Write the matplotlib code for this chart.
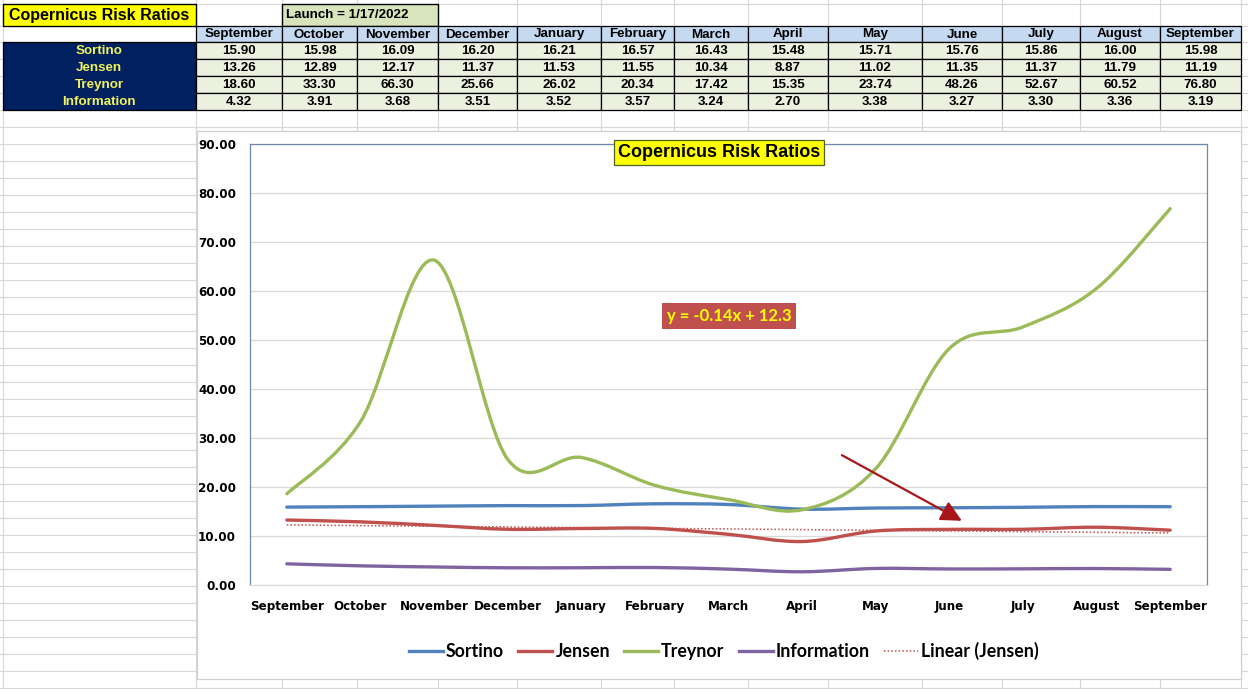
import numpy as np
import matplotlib
matplotlib.use('Agg')
import matplotlib.pyplot as plt
from matplotlib.patches import Rectangle, PathPatch
from matplotlib.path import Path
from matplotlib.lines import Line2D

meses = ['September', 'October', 'November', 'December', 'January', 'February', 'March',
         'April', 'May', 'June', 'July', 'August', 'September']
sortino = [15.90, 15.98, 16.09, 16.20, 16.21, 16.57, 16.43, 15.48, 15.71, 15.76, 15.86, 16.00, 15.98]
jensen = [13.26, 12.89, 12.17, 11.37, 11.53, 11.55, 10.34, 8.87, 11.02, 11.35, 11.37, 11.79, 11.19]
treynor = [18.60, 33.30, 66.30, 25.66, 26.02, 20.34, 17.42, 15.35, 23.74, 48.26, 52.67, 60.52, 76.80]
information = [4.32, 3.91, 3.68, 3.51, 3.52, 3.57, 3.24, 2.70, 3.38, 3.27, 3.30, 3.36, 3.19]
nomes = ['Sortino', 'Jensen', 'Treynor', 'Information']
cores = ['#4F81BD', '#C0504D', '#9BBB59', '#8064A2']
titulo = 'Copernicus Risk Ratios'
lancamento = 'Launch = 1/17/2022'
equacao = 'y = -0.14x + 12.3'

series = [sortino, jensen, treynor, information]

W, H = 1248, 689
fig = plt.figure(figsize=(W / 100, H / 100), dpi=100)

# fundo da planilha (pixels)
bg = fig.add_axes([0, 0, 1, 1])
bg.set_xlim(0, W)
bg.set_ylim(H, 0)
bg.axis('off')

cols = [3, 196, 282, 357, 438, 517, 601, 674, 748, 828, 922, 1002, 1080, 1160, 1241]
rows = [4, 26] + list(range(42, H + 1, 17))
grade = '#D6D6D6'
for y in rows:
    bg.plot([0, W], [y, y], color=grade, lw=0.8, zorder=0)
for x in cols:
    bg.plot([x, x], [0, H], color=grade, lw=0.8, zorder=0)

fonte_tab = dict(family='Liberation Sans', weight='bold', size=9.6)

# celula do titulo e do lancamento
bg.add_patch(Rectangle((3, 4), 193, 22, fc='#FFFF00', ec='black', lw=1, zorder=2))
bg.text(99, 15.5, titulo, ha='center', va='center', family='Liberation Sans',
        weight='bold', size=11.5, zorder=3)
bg.add_patch(Rectangle((282, 4), 156, 22, fc='#D8E4BC', ec='black', lw=1, zorder=2))
bg.text(286, 15.5, lancamento, ha='left', va='center', zorder=3, **fonte_tab)

# cabecalho
for j, m in enumerate(meses):
    x0, x1 = cols[j + 1], cols[j + 2]
    bg.add_patch(Rectangle((x0, 26), x1 - x0, 16, fc='#C5D9F1', ec='black', lw=0.9, zorder=2))
    bg.text((x0 + x1) / 2, 34.5, m, ha='center', va='center', zorder=3, **fonte_tab)

# bloco de dados
bg.add_patch(Rectangle((3, 42), 193, 68, fc='#002060', ec='black', lw=0.9, zorder=2))
for i, (nome, vals) in enumerate(zip(nomes, series)):
    y0 = 42 + 17 * i
    bg.text(99, y0 + 9, nome, ha='center', va='center', color='#F2F25C', zorder=3, **fonte_tab)
    for j, v in enumerate(vals):
        x0, x1 = cols[j + 1], cols[j + 2]
        bg.add_patch(Rectangle((x0, y0), x1 - x0, 17, fc='#EBF1DE', ec='black', lw=0.9, zorder=2))
        bg.text((x0 + x1) / 2, y0 + 9, '%.2f' % v, ha='center', va='center', zorder=3, **fonte_tab)

# area do grafico
bg.add_patch(Rectangle((197, 131), 1044, 548, fc='white', ec='#D0D0D0', lw=0.9, zorder=4))

# grafico
ax = fig.add_axes([250 / W, 1 - 585 / H, 957 / W, 441 / H])
ax.set_facecolor('none')
x = np.arange(len(meses))
ax.set_xlim(-0.5, len(meses) - 0.5)
ax.set_ylim(0, 90)
ax.set_yticks(np.arange(0, 91, 10))
ax.set_yticklabels(['%.2f' % t for t in np.arange(0, 91, 10)])
ax.set_xticks(x)
ax.set_xticklabels(meses)
for lab in ax.get_xticklabels() + ax.get_yticklabels():
    lab.set_fontfamily('DejaVu Sans')
    lab.set_fontweight('bold')
    lab.set_fontsize(8.6)
ax.tick_params(axis='y', length=0, pad=10)
ax.tick_params(axis='x', length=0, pad=11)
ax.grid(axis='y', color='#D9D9D9', lw=0.9)
ax.set_axisbelow(True)
for s in ['left', 'top', 'right']:
    ax.spines[s].set_color('#6C88A6')
    ax.spines[s].set_linewidth(0.9)
ax.spines['bottom'].set_color('#D9D9D9')


def curva_suave(xs, ys):
    pts = np.column_stack([xs, ys]).astype(float)
    n = len(pts)
    verts = [pts[0]]
    codes = [Path.MOVETO]
    for i in range(n - 1):
        p0 = pts[max(i - 1, 0)]
        p1 = pts[i]
        p2 = pts[i + 1]
        p3 = pts[min(i + 2, n - 1)]
        verts += [p1 + (p2 - p0) / 6, p2 - (p3 - p1) / 6, p2]
        codes += [Path.CURVE4] * 3
    return Path(verts, codes)


handles = []
for nome, vals, cor in zip(nomes, series, cores):
    ax.add_patch(PathPatch(curva_suave(x, vals), fill=False, ec=cor, lw=2.4,
                           capstyle='round', joinstyle='round', zorder=3))
    handles.append(Line2D([], [], color=cor, lw=2.4, label=nome))

# linha de tendencia (Jensen)
a, b = np.polyfit(x + 1, jensen, 1)
ax.plot(x, a * (x + 1) + b, color='#C0504D', lw=1.1, ls=(0, (1, 1.4)), zorder=2)
handles.append(Line2D([], [], color='#C0504D', lw=1.1, ls=(0, (1, 1.4)), label='Linear (Jensen)'))

# seta
ax.annotate('', xy=(9.17, 13.1), xytext=(7.54, 26.5),
            arrowprops=dict(arrowstyle='-|>,head_length=0.9,head_width=0.45',
                            color='#A8161C', lw=1.6, shrinkA=0, shrinkB=0,
                            mutation_scale=14), zorder=5)

fig.text(719 / W, 1 - 152.5 / H, titulo, ha='center', va='center', family='Liberation Sans',
         weight='bold', size=13,
         bbox=dict(boxstyle='square,pad=0.2', fc='#FFFF00', ec='#4F6228', lw=0.9))
fig.text(729 / W, 1 - 316 / H, equacao, ha='center', va='center', family='Lato',
         weight='bold', size=12, color='#FFFF00',
         bbox=dict(boxstyle='square,pad=0.3', fc='#C0504D', ec='none'))

fig.legend(handles=handles, loc='center', bbox_to_anchor=(724 / W, 1 - 651 / H), ncol=5,
           frameon=False, prop=dict(family='Lato', weight='bold', size=12.8),
           handlelength=1.9, handletextpad=0.18, columnspacing=0.8)

fig.savefig('out.png', dpi=100)
